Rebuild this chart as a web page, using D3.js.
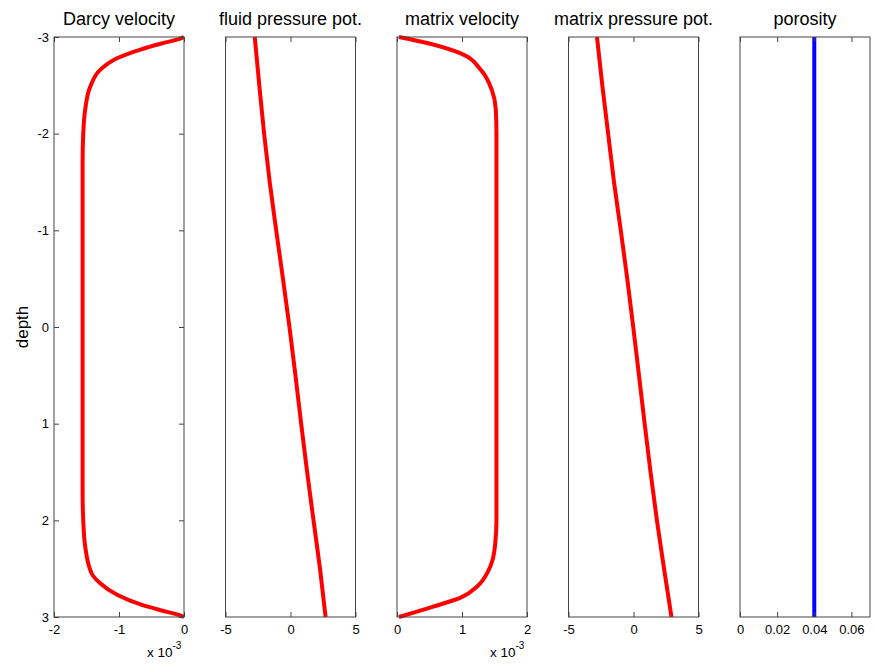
<!DOCTYPE html>
<html>
<head>
<meta charset="utf-8">
<script src="https://cdn.jsdelivr.net/npm/d3@7"></script>
<style>
  body { margin: 0; background: #fff; }
  svg { font-family: "Liberation Sans", Arial, sans-serif; }
</style>
</head>
<body>
<svg id="root"></svg>
<script>
// Five depth profiles side by side

// Darcy velocity (x 10^-3) against depth
const darcyDepth = [-3, -2.98, -2.93, -2.87, -2.78, -2.66, -2.49, -2.25, -2.0, -1.7, 0, 1.7, 2.0, 2.27, 2.55, 2.65, 2.77, 2.87, 2.93, 2.98, 3];
const darcyVel = [0, -0.07, -0.36, -0.67, -1.03, -1.29, -1.44, -1.52, -1.55, -1.56, -1.56, -1.56, -1.55, -1.52, -1.42, -1.29, -1.03, -0.67, -0.36, -0.07, 0];

// matrix velocity (x 10^-3) against depth
const matrixDepth = [-3, -2.93, -2.83, -2.66, -2.45, -2.25, -2.0, -1.7, 0, 1.7, 2.0, 2.25, 2.41, 2.53, 2.68, 2.80, 2.89, 3];
const matrixVel = [0.03, 0.51, 0.98, 1.29, 1.46, 1.52, 1.53, 1.53, 1.53, 1.53, 1.53, 1.51, 1.47, 1.40, 1.24, 0.98, 0.57, 0.03];

// pressure potentials against depth
const presDepth = [-3, -2.5, -2, -1.5, -1, -0.5, 0, 0.5, 1, 1.5, 2, 2.5, 3];
const fluidPres = [-2.75, -2.40, -2.03, -1.60, -1.10, -0.58, -0.08, 0.38, 0.82, 1.28, 1.77, 2.27, 2.70];
const matrixPres = [-2.81, -2.40, -1.95, -1.50, -0.98, -0.48, -0.02, 0.42, 0.86, 1.31, 1.80, 2.35, 2.92];

// porosity against depth
const porDepth = [-3, 3];
const porosity = [0.04, 0.04];

const titles = ["Darcy velocity", "fluid pressure pot.", "matrix velocity", "matrix pressure pot.", "porosity"];
const xDomains = [[-2, 0], [-5, 5], [0, 2], [-5, 5], [0, 0.07]];
const xTicks = [[-2, -1, 0], [-5, 0, 5], [0, 1, 2], [-5, 0, 5], [0, 0.02, 0.04, 0.06]];
const depthTicks = [-3, -2, -1, 0, 1, 2, 3];

const W = 875, H = 666;
const plotTop = 37, plotBottom = 617;
const pw = 130, gap = 171.5, left0 = 54;

const svg = d3.select("#root").attr("width", W).attr("height", H);

const yScale = d3.scaleLinear([-3, 3], [plotTop, plotBottom]);

const series = [
  { d: darcyDepth, v: darcyVel, color: "#ff0000" },
  { d: presDepth, v: fluidPres, color: "#ff0000" },
  { d: matrixDepth, v: matrixVel, color: "#ff0000" },
  { d: presDepth, v: matrixPres, color: "#ff0000" },
  { d: porDepth, v: porosity, color: "#0000ff" }
];

const fmt = (t) => String(t);

titles.forEach((title, i) => {
  const x0 = left0 + i * gap;
  const xScale = d3.scaleLinear(xDomains[i], [x0, x0 + pw]);
  const g = svg.append("g");

  // curve
  const line = d3.line()
    .x((k) => xScale(series[i].v[k]))
    .y((k) => yScale(series[i].d[k]))
    .curve(d3.curveMonotoneY);
  g.append("path")
    .datum(d3.range(series[i].v.length))
    .attr("fill", "none")
    .attr("stroke", series[i].color)
    .attr("stroke-width", 4)
    .attr("stroke-linejoin", "round")
    .attr("d", line);

  // bottom axis with labels, ticks pointing in
  const bx = g.append("g")
    .attr("transform", `translate(0,${plotBottom})`)
    .call(d3.axisBottom(xScale).tickValues(xTicks[i]).tickSize(-5).tickPadding(8).tickFormat(fmt));
  // top axis, ticks only
  const tx = g.append("g")
    .attr("transform", `translate(0,${plotTop})`)
    .call(d3.axisTop(xScale).tickValues(xTicks[i]).tickSize(-5).tickFormat(""));

  [bx, tx].forEach((a) => {
    a.select(".domain").remove();
    a.selectAll("line").attr("stroke", "#444");
    a.selectAll("text").attr("fill", "#000").style("font-size", "13px");
  });

  if (i === 0) {
    const ly = g.append("g")
      .attr("transform", `translate(${x0},0)`)
      .call(d3.axisLeft(yScale).tickValues(depthTicks).tickSize(-5).tickPadding(5).tickFormat(fmt));
    const ry = g.append("g")
      .attr("transform", `translate(${x0 + pw},0)`)
      .call(d3.axisRight(yScale).tickValues(depthTicks).tickSize(-5).tickFormat(""));
    [ly, ry].forEach((a) => {
      a.select(".domain").remove();
      a.selectAll("line").attr("stroke", "#444");
      a.selectAll("text").attr("fill", "#000").style("font-size", "13px");
    });
  }

  // box
  g.append("rect")
    .attr("x", x0).attr("y", plotTop)
    .attr("width", pw).attr("height", plotBottom - plotTop)
    .attr("fill", "none")
    .attr("stroke", "#444")
    .attr("stroke-width", 1);

  // title
  g.append("text")
    .attr("x", x0 + pw / 2)
    .attr("y", 25)
    .attr("text-anchor", "middle")
    .style("font-size", "18px")
    .text(title);

  // exponent label for the velocity panels
  if (i === 0 || i === 2) {
    const ex = g.append("text")
      .attr("x", x0 + pw - 37)
      .attr("y", 657)
      .style("font-size", "13.5px");
    ex.append("tspan").text("x 10");
    ex.append("tspan").attr("dy", -8).style("font-size", "10px").text("-3");
  }
});

// y label
svg.append("text")
  .attr("transform", `translate(28,${(plotTop + plotBottom) / 2}) rotate(-90)`)
  .attr("text-anchor", "middle")
  .style("font-size", "17px")
  .text("depth");
</script>
</body>
</html>
